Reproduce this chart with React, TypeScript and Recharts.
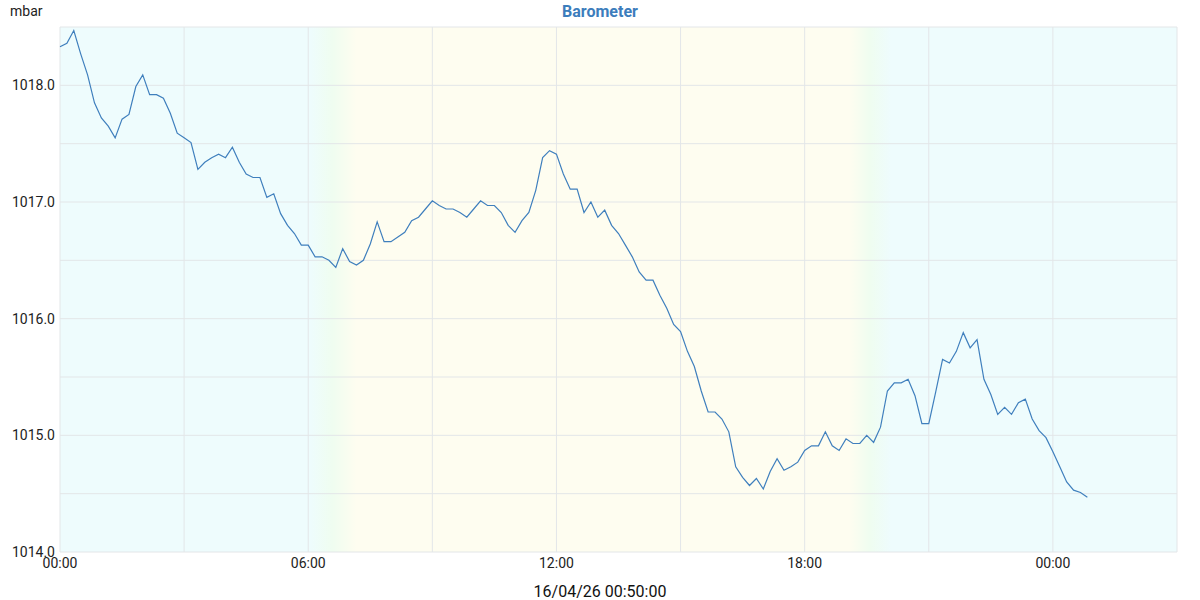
import { LineChart, Line, XAxis, YAxis, CartesianGrid } from 'recharts';

// barometer readings, one every 10 minutes starting 00:00
const pressure = [
  1018.33, 1018.36, 1018.47, 1018.27, 1018.09, 1017.85, 1017.72, 1017.65, 1017.55, 1017.71,
  1017.75, 1017.99, 1018.09, 1017.92, 1017.92, 1017.89, 1017.76, 1017.59, 1017.55, 1017.51,
  1017.28, 1017.34, 1017.38, 1017.41, 1017.38, 1017.47, 1017.34, 1017.24, 1017.21, 1017.21,
  1017.04, 1017.07, 1016.9, 1016.8, 1016.73, 1016.63, 1016.63, 1016.53, 1016.53, 1016.5,
  1016.44, 1016.6, 1016.49, 1016.46, 1016.5, 1016.64, 1016.83, 1016.66, 1016.66, 1016.7,
  1016.74, 1016.84, 1016.87, 1016.94, 1017.01, 1016.97, 1016.94, 1016.94, 1016.91, 1016.87,
  1016.94, 1017.01, 1016.97, 1016.97, 1016.91, 1016.8, 1016.74, 1016.84, 1016.91, 1017.1,
  1017.38, 1017.44, 1017.41, 1017.24, 1017.11, 1017.11, 1016.91, 1017.0, 1016.87, 1016.93,
  1016.8, 1016.73, 1016.63, 1016.53, 1016.4, 1016.33, 1016.33, 1016.2, 1016.09, 1015.95,
  1015.89, 1015.72, 1015.59, 1015.38, 1015.2, 1015.2, 1015.14, 1015.03, 1014.73, 1014.64,
  1014.57, 1014.63, 1014.54, 1014.69, 1014.8, 1014.7, 1014.73, 1014.77, 1014.87, 1014.91,
  1014.91, 1015.03, 1014.91, 1014.87, 1014.97, 1014.93, 1014.93, 1015.0, 1014.94, 1015.07,
  1015.38, 1015.45, 1015.45, 1015.48, 1015.34, 1015.1, 1015.1, 1015.37, 1015.65, 1015.62,
  1015.72, 1015.88, 1015.75, 1015.82, 1015.48, 1015.35, 1015.18, 1015.24, 1015.18, 1015.28,
  1015.31, 1015.14, 1015.04, 1014.98, 1014.86, 1014.73, 1014.6, 1014.53, 1014.51, 1014.47,
];
const SAMPLE_MINUTES = 10;

const xTicks = [0, 180, 360, 540, 720, 900, 1080, 1260, 1440, 1620];
const yTicks = [1014, 1014.5, 1015, 1015.5, 1016, 1016.5, 1017, 1017.5, 1018, 1018.5];

// sunrise / sunset fades, in minutes from midnight
const sunrise = [363, 395, 430];
const sunset = [1145, 1175, 1205];
const X_MAX = 1620;

const data = pressure.map((p, i) => ({ t: i * SAMPLE_MINUTES, p }));

const NIGHT = '#eefcfd';
const TWILIGHT = '#effdf0';
const DAY = '#fefdf0';
const font = 'Roboto, "DejaVu Sans", sans-serif';

function fmtTime(v: number) {
  if (v % 360 !== 0 || v >= X_MAX) return '';
  const h = (v / 60) % 24;
  return `${String(h).padStart(2, '0')}:00`;
}

export default function App() {
  return (
    <div style={{ position: 'relative', width: 1200, height: 600, fontFamily: font }}>
      <style>{'body{margin:0}'}</style>
      <div
        style={{
          position: 'absolute', top: 2, left: 0, width: 1200, textAlign: 'center',
          fontSize: 16, fontWeight: 'bold', color: '#3c7dbc',
        }}
      >
        Barometer
      </div>
      <div style={{ position: 'absolute', top: 3, left: 10, fontSize: 14, color: '#222' }}>mbar</div>
      <div
        style={{
          position: 'absolute', top: 582, left: 0, width: 1200, textAlign: 'center',
          fontSize: 16, color: '#111',
        }}
      >
        16/04/26 00:50:00
      </div>
      <LineChart width={1200} height={600} data={data} margin={{ top: 27, right: 23, left: 0, bottom: 0 }}>
        <defs>
          <linearGradient id="daylight" x1="0" y1="0" x2="1" y2="0">
            <stop offset={sunrise[0] / X_MAX} stopColor={NIGHT} />
            <stop offset={sunrise[1] / X_MAX} stopColor={TWILIGHT} />
            <stop offset={sunrise[2] / X_MAX} stopColor={DAY} />
            <stop offset={sunset[0] / X_MAX} stopColor={DAY} />
            <stop offset={sunset[1] / X_MAX} stopColor={TWILIGHT} />
            <stop offset={sunset[2] / X_MAX} stopColor={NIGHT} />
          </linearGradient>
        </defs>
        <CartesianGrid stroke="#e3e6e8" fill="url(#daylight)" fillOpacity={1} />
        <XAxis
          dataKey="t"
          type="number"
          domain={[0, X_MAX]}
          ticks={xTicks}
          interval={0}
          height={48}
          axisLine={false}
          tickLine={false}
          tickSize={0}
          tickMargin={6}
          tickFormatter={fmtTime}
          tick={{ fill: '#222', fontSize: 14, fontFamily: font }}
        />
        <YAxis
          type="number"
          domain={[1014, 1018.5]}
          ticks={yTicks}
          interval={0}
          width={60}
          axisLine={false}
          tickLine={false}
          tickSize={0}
          tickMargin={5}
          allowDataOverflow
          tickFormatter={(v: number) => (Number.isInteger(v) ? v.toFixed(1) : '')}
          tick={{ fill: '#222', fontSize: 14, fontFamily: font }}
        />
        <Line
          type="linear"
          dataKey="p"
          stroke="#3f7fbd"
          strokeWidth={1.2}
          dot={false}
          isAnimationActive={false}
        />
      </LineChart>
    </div>
  );
}
